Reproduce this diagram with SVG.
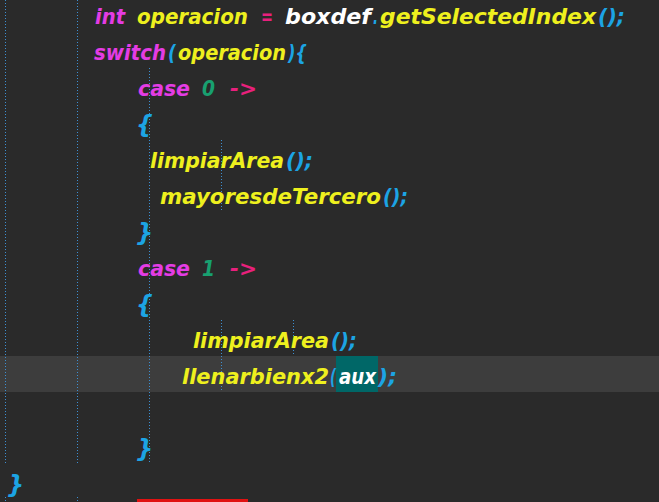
<svg xmlns="http://www.w3.org/2000/svg" width="659" height="502" viewBox="0 0 659 502">
<style>
text{font-family:"DejaVu Sans","Liberation Sans",sans-serif;font-weight:bold;font-style:oblique;font-size:22px}
.br{font-size:24px}
.k{fill:#e43ce4}.y{fill:#eef01e}.c{fill:#1ca4e4}.g{fill:#18a070}.p{fill:#e8207c}.w{fill:#ffffff}
.gd{stroke:#3d8fd2;stroke-width:1;stroke-dasharray:1 2;fill:none}
</style>
<rect width="659" height="502" fill="#2a2a2a"/>
<rect x="0" y="356" width="659" height="36" fill="#3d3d3d"/>
<rect x="336" y="356" width="42" height="36" fill="#006767"/>
<rect x="137" y="499" width="111" height="3" fill="#e01212"/>
<g id="guides">
<line class="gd" x1="5.5" y1="0" x2="5.5" y2="463"/>
<line class="gd" x1="77.5" y1="0" x2="77.5" y2="463"/>
<line class="gd" x1="149.5" y1="68" x2="149.5" y2="463"/>
<line class="gd" x1="221.5" y1="140" x2="221.5" y2="212"/>
<line class="gd" x1="221.5" y1="320" x2="221.5" y2="392"/>
<line class="gd" x1="293.5" y1="320" x2="293.5" y2="356"/>
<line class="gd" x1="5.5" y1="497" x2="5.5" y2="502"/>
<line class="gd" x1="77.5" y1="497" x2="77.5" y2="502"/>
</g>
<g id="code">
<text y="24"><tspan class="k" x="95" textLength="30" lengthAdjust="spacingAndGlyphs">int</tspan><tspan class="y" x="137" textLength="111" lengthAdjust="spacingAndGlyphs">operacion</tspan><tspan class="p" x="261" textLength="12" lengthAdjust="spacingAndGlyphs">=</tspan><tspan class="w" x="285" textLength="86" lengthAdjust="spacingAndGlyphs">boxdef</tspan><tspan class="c" x="373" textLength="5" lengthAdjust="spacingAndGlyphs">.</tspan><tspan class="y" x="380" textLength="216" lengthAdjust="spacingAndGlyphs">getSelectedIndex</tspan><tspan class="c" x="598" textLength="27" lengthAdjust="spacingAndGlyphs">();</tspan></text>
<text y="60"><tspan class="k" x="94" textLength="72" lengthAdjust="spacingAndGlyphs">switch</tspan><tspan class="c" x="168" textLength="8" lengthAdjust="spacingAndGlyphs">(</tspan><tspan class="y" x="178" textLength="108" lengthAdjust="spacingAndGlyphs">operacion</tspan><tspan class="c" x="288" textLength="19" lengthAdjust="spacingAndGlyphs">){</tspan></text>
<text y="96"><tspan class="k" x="138" textLength="52" lengthAdjust="spacingAndGlyphs">case</tspan><tspan class="g" x="202" textLength="13" lengthAdjust="spacingAndGlyphs">0</tspan><tspan class="p" x="230" textLength="27" lengthAdjust="spacingAndGlyphs">-&gt;</tspan></text>
<text y="133" class="c br" x="136">{</text>
<text y="168"><tspan class="y" x="150" textLength="134" lengthAdjust="spacingAndGlyphs">limpiarArea</tspan><tspan class="c" x="286" textLength="27" lengthAdjust="spacingAndGlyphs">();</tspan></text>
<text y="204"><tspan class="y" x="160" textLength="221" lengthAdjust="spacingAndGlyphs">mayoresdeTercero</tspan><tspan class="c" x="383" textLength="25" lengthAdjust="spacingAndGlyphs">();</tspan></text>
<text y="241" class="c br" x="136">}</text>
<text y="276"><tspan class="k" x="138" textLength="52" lengthAdjust="spacingAndGlyphs">case</tspan><tspan class="g" x="202" textLength="13" lengthAdjust="spacingAndGlyphs">1</tspan><tspan class="p" x="230" textLength="27" lengthAdjust="spacingAndGlyphs">-&gt;</tspan></text>
<text y="313" class="c br" x="136">{</text>
<text y="348"><tspan class="y" x="193" textLength="136" lengthAdjust="spacingAndGlyphs">limpiarArea</tspan><tspan class="c" x="331" textLength="26" lengthAdjust="spacingAndGlyphs">();</tspan></text>
<text y="384"><tspan class="y" x="182" textLength="147" lengthAdjust="spacingAndGlyphs">llenarbienx2</tspan><tspan class="c" x="330" textLength="6" lengthAdjust="spacingAndGlyphs">(</tspan><tspan class="w" x="339" textLength="37" lengthAdjust="spacingAndGlyphs">aux</tspan><tspan class="c" x="378" textLength="19" lengthAdjust="spacingAndGlyphs">);</tspan></text>
<text y="457" class="c br" x="136">}</text>
<text y="493" class="c br" x="7">}</text>
</g>
</svg>
